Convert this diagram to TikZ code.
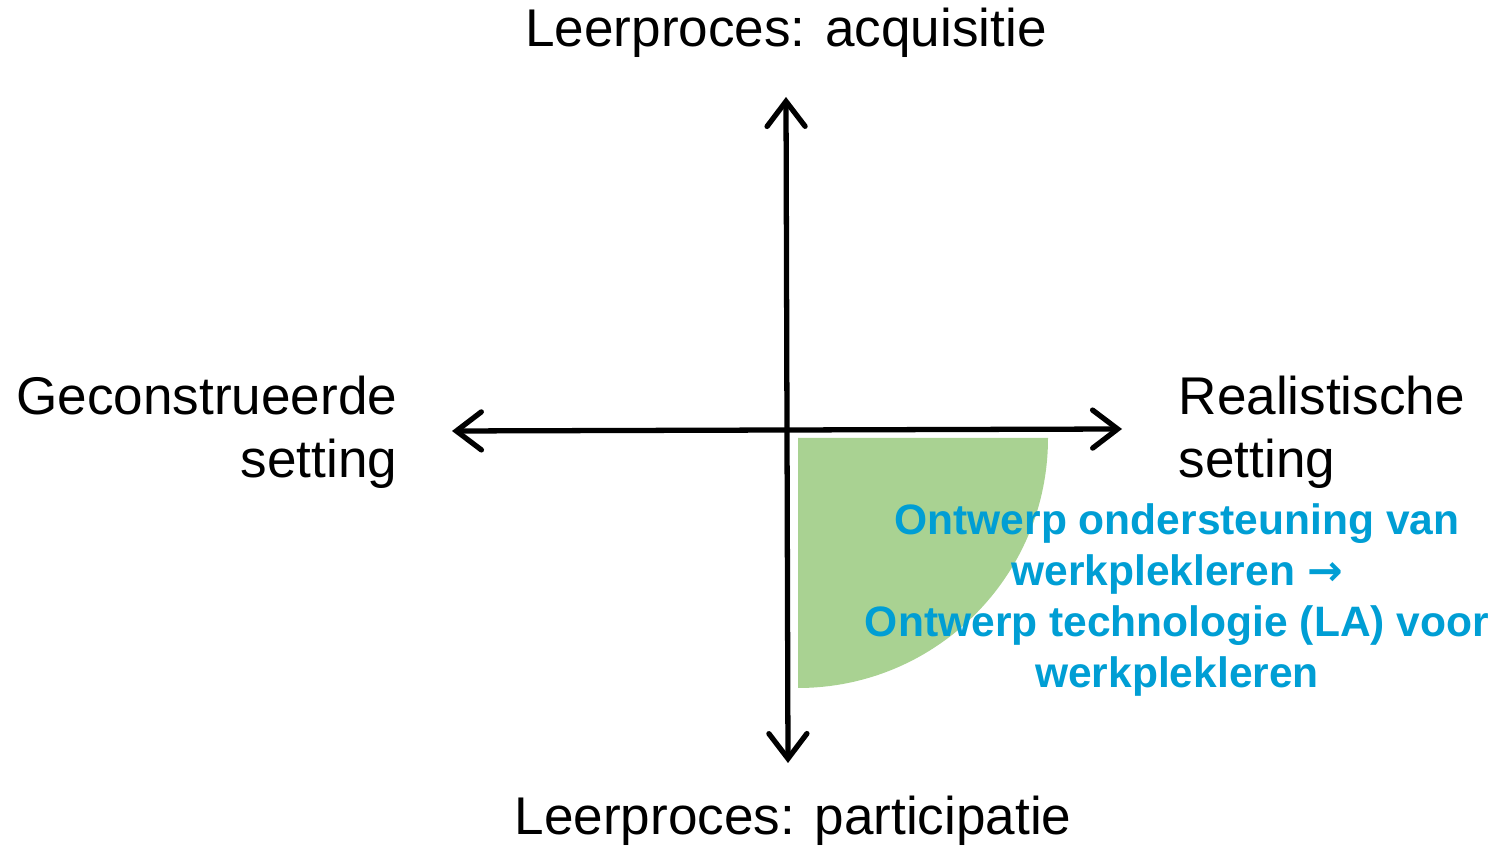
\documentclass[tikz,border=0pt]{standalone}
\usepackage{fontspec}
\setmainfont{Liberation Sans}
\newfontfamily\arrowfont{DejaVu Sans}
\usepackage{tikz}
\usetikzlibrary{arrows.meta}

\definecolor{quadrant_green}{RGB}{169,210,146}
\definecolor{note_blue}{RGB}{0,158,212}

\begin{document}
\begin{tikzpicture}[x=0.01cm, y=-0.01cm]
	
	\tikzstyle{axis_label}=[font=\fontsize{15.1}{18}\selectfont, inner sep=0pt]
	\tikzstyle{axis_arrow}=[{Straight Barb[length=2.5mm, width=3.8mm, line cap=round]}-{Straight Barb[length=2.5mm, width=3.8mm, line cap=round]}, line width=1.5pt, line cap=round]
	\tikzstyle{note_text}=[font=\fontsize{12.1}{14.5}\selectfont\bfseries, text=note_blue, align=center, inner sep=0pt]
	
	\useasboundingbox (0, 0) rectangle (1499, 849);
	
	\coordinate (origin) at (798, 438);
	\coordinate (top_end) at (786, 97);
	\coordinate (bottom_end) at (788, 763);
	\coordinate (left_end) at (452, 431);
	\coordinate (right_end) at (1122, 429);
	
	% quadrant: realistische setting + participatie
	\fill[quadrant_green] (origin) -- ++(250, 0) arc[start angle=0, end angle=90, radius=250] -- cycle;
	
	\draw[axis_arrow] (bottom_end) -- (top_end);
	\draw[axis_arrow] (left_end) -- (right_end);
	
	\node[axis_label] at (786, 33) (acquisitie) {Leerproces: acquisitie};
	\node[axis_label] at (793, 821) (participatie) {Leerproces: participatie};
	\node[axis_label, align=right, anchor=east] at (398, 432) (geconstrueerd) {Geconstrueerde\\ setting};
	\node[axis_label, align=left, anchor=west] at (1178, 432) (realistisch) {Realistische\\ setting};
	
	\node[note_text] at (1177, 600) (ontwerp) {Ontwerp ondersteuning van\\ werkplekleren {\arrowfont\bfseries →}\\ Ontwerp technologie (LA) voor\\ werkplekleren};
	
\end{tikzpicture}
\end{document}
